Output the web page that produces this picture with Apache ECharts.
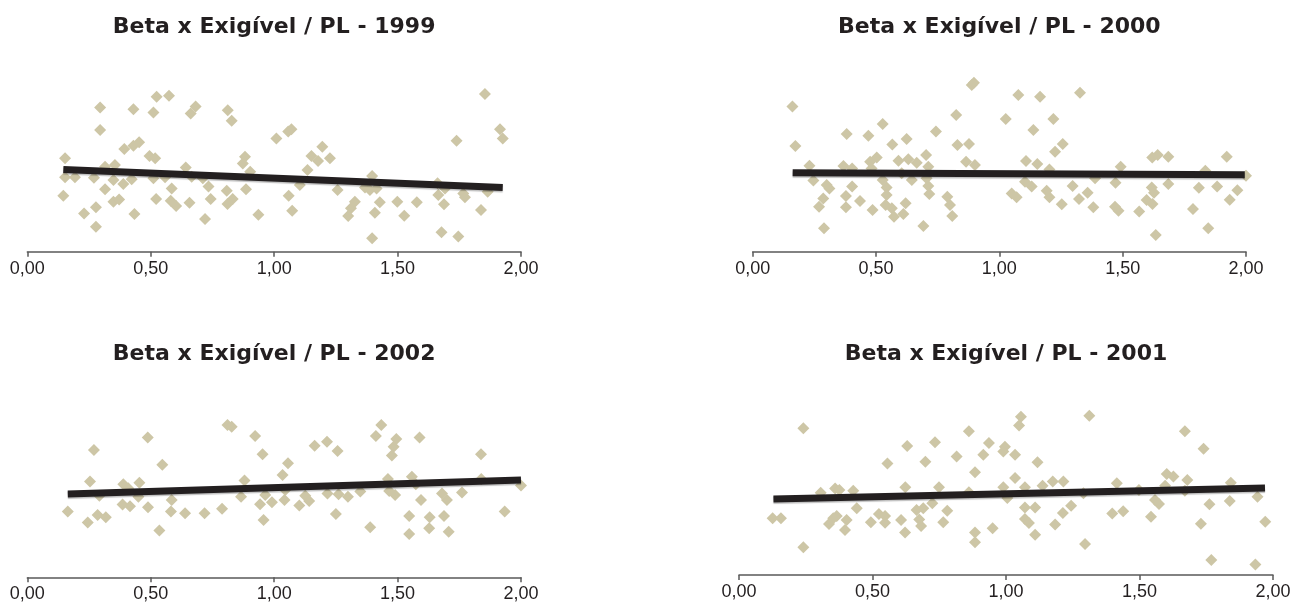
<!DOCTYPE html>
<html><head><meta charset="utf-8">
<script src="https://cdn.jsdelivr.net/npm/echarts@6/dist/echarts.min.js"></script>
<style>html,body{margin:0;padding:0;background:#fff}#c{width:1312px;height:604px}</style>
</head><body><div id="c"></div>
<script>
const xTickLabels = ['0,00', '0,50', '1,00', '1,50', '2,00'];
const titles = ['Beta x Exigível / PL - 1999', 'Beta x Exigível / PL - 2000', 'Beta x Exigível / PL - 2002', 'Beta x Exigível / PL - 2001'];

const pts1999 = [
  [0.524,7.50],[0.574,7.55],[0.295,6.98],[0.430,6.89],[0.511,6.73],[0.682,7.02],[0.662,6.69],[0.812,6.85],[0.828,6.34],
  [0.295,5.89],[0.453,5.29],[0.430,5.13],[0.393,4.97],[0.153,4.52],[0.495,4.63],[0.518,4.52],[0.882,4.60],[0.873,4.27],
  [0.315,4.11],[0.355,4.19],[0.642,4.08],[0.153,3.60],[0.193,3.60],[0.270,3.58],[0.349,3.47],[0.389,3.27],[0.423,3.50],
  [0.511,3.55],[0.558,3.60],[0.666,3.63],[0.711,3.55],[0.903,3.87],[0.315,3.02],[0.585,3.06],[0.734,3.15],[0.808,2.95],
  [0.886,3.02],[0.146,2.71],[0.349,2.42],[0.372,2.53],[0.522,2.55],[0.581,2.47],[0.603,2.21],[0.657,2.37],[0.743,2.55],
  [0.811,2.31],[0.832,2.55],[0.230,1.85],[0.278,2.15],[0.434,1.82],[0.720,1.58],[0.936,1.79],[0.278,1.21],
  [1.854,7.63],[1.009,5.48],[1.057,5.81],[1.070,5.92],[1.195,5.08],[1.151,4.63],[1.178,4.39],[1.226,4.52],[1.915,5.92],
  [1.926,5.48],[1.739,5.37],[1.135,3.95],[1.397,3.66],[1.104,3.23],[1.059,2.71],[1.257,2.98],[1.368,3.11],[1.388,2.98],
  [1.415,3.06],[1.662,3.31],[1.692,3.06],[1.665,2.74],[1.766,2.82],[1.773,2.63],[1.865,2.90],[1.073,1.98],[1.327,2.42],
  [1.311,2.10],[1.300,1.73],[1.428,2.39],[1.408,1.89],[1.499,2.42],[1.578,2.39],[1.527,1.74],[1.688,2.29],[1.838,2.02],
  [1.678,0.94],[1.746,0.73],[1.397,0.65]
];
const trend1999 = [[0.146,3.98],[1.926,3.11]];

const pts2000 = [
  [0.161,7.02],[0.173,5.11],[0.381,5.69],[0.469,5.61],[0.527,6.18],[0.566,5.19],[0.624,5.45],[0.743,5.81],[0.825,6.61],
  [0.830,5.16],[0.877,5.21],[0.230,4.16],[0.246,3.44],[0.368,4.15],[0.403,4.03],[0.476,4.35],[0.503,4.56],[0.482,4.03],
  [0.591,4.40],[0.631,4.47],[0.665,4.31],[0.703,4.68],[0.712,4.11],[0.311,3.06],[0.300,3.23],[0.403,3.15],[0.286,2.58],
  [0.269,2.18],[0.378,2.69],[0.378,2.15],[0.435,2.45],[0.486,2.02],[0.527,3.47],[0.543,3.11],[0.543,2.74],[0.539,2.26],
  [0.564,2.10],[0.573,1.69],[0.620,2.34],[0.611,1.82],[0.604,3.79],[0.645,3.47],[0.705,3.55],[0.712,3.18],[0.716,2.79],
  [0.789,2.66],[0.800,2.26],[0.809,1.73],[0.289,1.13],[0.692,1.24],[0.888,8.06],[0.897,8.18],[1.077,7.58],[1.165,7.50],
  [1.327,7.69],[1.026,6.42],[1.219,6.42],[1.138,5.89],[1.257,5.21],[1.226,4.84],[0.865,4.35],[0.901,4.19],[1.108,4.39],
  [1.154,4.24],[1.203,3.98],[1.492,4.11],[1.620,4.56],[1.642,4.68],[1.685,4.60],[1.104,3.39],[1.131,3.15],[1.388,3.55],
  [1.297,3.18],[1.471,3.34],[1.685,3.27],[1.618,3.11],[1.050,2.82],[1.070,2.63],[1.192,2.95],[1.203,2.63],[1.358,2.85],
  [1.323,2.55],[1.253,2.29],[1.381,2.15],[1.469,2.18],[1.483,1.98],[1.567,1.94],[1.597,2.50],[1.621,2.31],[1.627,2.85],
  [1.634,0.81],[1.922,4.60],[1.835,3.92],[1.809,3.10],[1.883,3.16],[1.965,2.97],[1.934,2.51],[1.785,2.07],[1.847,1.14],
  [2.000,3.67]
];
const trend2000 = [[0.162,3.82],[1.995,3.72]];

const pts2002 = [
  [0.811,7.37],[0.828,7.29],[0.488,6.77],[0.923,6.84],[0.953,5.95],[0.270,6.16],[0.547,5.44],[0.254,4.63],[0.292,3.95],
  [0.389,4.50],[0.409,4.31],[0.454,4.58],[0.450,3.90],[0.386,3.52],[0.416,3.44],[0.489,3.39],[0.585,3.74],[0.582,3.18],
  [0.639,3.10],[0.718,3.10],[0.789,3.32],[0.880,4.68],[0.866,3.90],[0.943,3.53],[0.957,2.77],[0.164,3.18],[0.285,3.02],
  [0.318,2.90],[0.245,2.65],[0.535,2.26],[1.434,7.37],[1.412,6.84],[1.495,6.69],[1.484,6.32],[1.477,5.89],[1.589,6.77],
  [1.164,6.37],[1.214,6.56],[1.257,6.11],[1.056,5.52],[1.034,4.95],[1.838,5.95],[0.964,3.98],[0.991,3.63],[1.042,3.74],
  [1.045,4.23],[1.102,3.47],[1.126,3.95],[1.142,3.69],[1.216,4.06],[1.261,4.02],[1.299,3.90],[1.349,4.15],[1.250,3.06],
  [1.389,2.42],[1.461,4.76],[1.466,4.18],[1.490,3.98],[1.558,4.87],[1.574,4.50],[1.595,3.74],[1.547,2.97],[1.547,2.10],
  [1.630,2.90],[1.628,2.37],[1.680,4.06],[1.700,3.74],[1.688,2.97],[1.707,2.21],[1.761,4.10],[1.839,4.76],[1.934,3.18],
  [2.000,4.44]
];
const trend2002 = [[0.164,4.03],[2.000,4.71]];

const pts2001 = [
  [0.241,7.10],[0.241,1.34],[0.126,2.74],[0.157,2.74],[0.306,3.98],[0.360,4.19],[0.376,4.11],[0.428,4.08],[0.441,3.23],
  [0.366,2.85],[0.353,2.74],[0.337,2.47],[0.403,2.66],[0.397,2.18],[0.494,2.55],[0.524,2.95],[0.547,2.85],[0.547,2.53],
  [0.607,2.66],[0.622,2.06],[0.556,5.40],[0.630,6.24],[0.623,4.24],[0.698,5.48],[0.734,6.42],[0.815,5.73],[0.749,4.24],
  [0.665,3.15],[0.690,3.23],[0.724,3.47],[0.675,2.69],[0.682,2.37],[0.765,2.55],[0.780,3.11],[1.312,7.71],[1.056,7.66],
  [1.049,7.23],[1.670,6.95],[0.861,6.95],[0.936,6.39],[0.915,5.82],[0.996,6.21],[0.990,5.98],[1.034,5.82],[1.118,5.45],
  [0.884,4.97],[1.034,4.69],[0.861,4.00],[0.990,4.24],[1.005,3.73],[1.071,4.24],[1.137,4.32],[1.175,4.53],[1.215,4.52],
  [1.290,3.95],[1.415,4.44],[1.498,4.11],[1.602,4.89],[1.627,4.77],[1.596,4.32],[1.679,4.60],[1.670,4.08],[1.558,3.63],
  [1.573,3.44],[1.071,3.27],[1.109,3.27],[1.244,3.35],[1.213,3.00],[1.071,2.71],[1.086,2.52],[1.184,2.44],[1.109,1.95],
  [1.398,2.98],[1.439,3.08],[1.543,2.82],[0.884,2.06],[0.884,1.58],[0.950,2.26],[1.296,1.50],[1.740,6.11],[1.762,3.42],
  [1.730,2.48],[1.769,0.72],[1.842,4.46],[1.838,3.58],[1.942,3.79],[1.971,2.58],[1.934,0.51]
];
const trend2001 = [[0.129,3.68],[1.970,4.21]];

const panels = [
  { title: titles[0], pts: pts1999, trend: trend1999, left: 27.3, axisY: 251.7, width: 493.7, titleY: 27 },
  { title: titles[1], pts: pts2000, trend: trend2000, left: 752.7, axisY: 251.7, width: 493.3, titleY: 27 },
  { title: titles[2], pts: pts2002, trend: trend2002, left: 27.3, axisY: 577.3, width: 493.7, titleY: 354 },
  { title: titles[3], pts: pts2001, trend: trend2001, left: 739, axisY: 575, width: 534, titleY: 354 }
];
const PLOT_H = 206.67;

const grid = [], xAxis = [], yAxis = [], series = [], graphic = [];
panels.forEach((p, i) => {
  grid.push({ left: p.left, top: p.axisY - PLOT_H, width: p.width, height: PLOT_H, containLabel: false, outerBoundsMode: 'none' });
  xAxis.push({
    type: 'value', gridIndex: i, min: 0, max: 2, interval: 0.5,
    axisLine: { show: true, onZero: false, lineStyle: { color: '#5a5a5a', width: 1.5 } },
    axisTick: { show: true, inside: false, length: 5, lineStyle: { color: '#5a5a5a', width: 1.5 } },
    splitLine: { show: false },
    axisLabel: {
      show: true, margin: 8, color: '#231f20', fontSize: 18, fontFamily: 'Liberation Sans',
      showMinLabel: true, showMaxLabel: true,
      formatter: v => xTickLabels[Math.round(v / 0.5)]
    }
  });
  yAxis.push({ type: 'value', gridIndex: i, min: 0, max: 10, show: false, splitLine: { show: false } });
  series.push({
    type: 'scatter', xAxisIndex: i, yAxisIndex: i, data: p.pts,
    symbol: 'diamond', symbolSize: 12, silent: true,
    itemStyle: { color: '#cdc6a6', opacity: 1 }, z: 2
  });
  series.push({
    type: 'line', xAxisIndex: i, yAxisIndex: i, data: p.trend,
    symbol: 'none', silent: true, z: 3,
    lineStyle: { color: '#231f20', width: 7, cap: 'butt', shadowColor: 'rgba(0,0,0,0.25)', shadowBlur: 1, shadowOffsetY: 1.5 }
  });
  graphic.push({
    type: 'text', x: p.left + p.width / 2, y: p.titleY, silent: true,
    style: { text: p.title, fill: '#231f20', font: 'bold 22px "DejaVu Sans"', align: 'center', verticalAlign: 'middle' }
  });
});

const chart = echarts.init(document.getElementById('c'), null, { renderer: 'canvas' });
chart.setOption({ backgroundColor: '#ffffff', animation: false, grid, xAxis, yAxis, series, graphic });
</script></body></html>
